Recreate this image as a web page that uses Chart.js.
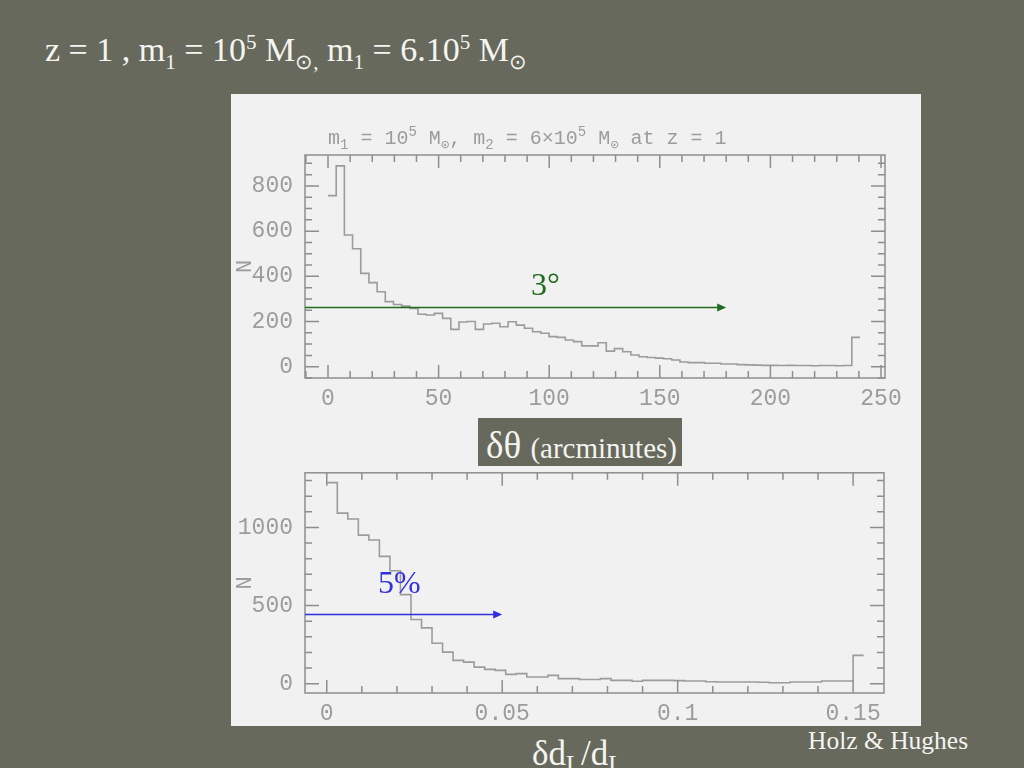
<!DOCTYPE html>
<html>
<head>
<meta charset="utf-8">
<script src="https://cdn.jsdelivr.net/npm/chart.js@4.4.1/dist/chart.umd.min.js"></script>
<style>
  body { margin: 0; width: 1024px; height: 768px; background: #67695c; position: relative; overflow: hidden; font-family: "Liberation Serif", "Times New Roman", serif; color: #f4f4f0; }
  #panel { position: absolute; left: 231px; top: 94px; width: 690px; height: 632px; background: #f1f1f1; }
  .box { position: absolute; }
  .txt { position: absolute; white-space: nowrap; line-height: 1; }
  sub, sup { font-size: 62%; line-height: 0; }
  #title { left: 45px; top: 33px; font-size: 34px; }
  #inner { left: 328px; top: 129px; font-family: "Liberation Mono", monospace; font-size: 20px; color: #9c9c9c; }
  #inner sub, #inner sup { font-size: 70%; }
  #deg { left: 531px; top: 268px; font-size: 32px; color: #1f6b1f; }
  #pct { left: 378px; top: 566px; font-size: 32px; color: #3333dd; }
  #xlab1 { left: 478px; top: 418px; width: 204px; height: 48px; background: #67695c; }
  #xlab1 span { position: absolute; left: 8px; top: 9px; font-size: 37px; white-space: nowrap; line-height: 1; }
  #xlab1 small { font-size: 29px; }
  #xlab2 { left: 532px; top: 736px; font-size: 35px; }
  #xlab2 sub { font-size: 70%; }
  #credit { left: 808px; top: 728px; font-size: 25.5px; }
</style>
</head>
<body>
<div id="panel"></div>
<div class="box" style="left:231px;top:94px;width:690px;height:320px"><canvas id="top" width="690" height="320"></canvas></div>
<div class="box" style="left:231px;top:447px;width:690px;height:279px"><canvas id="bottom" width="690" height="279"></canvas></div>

<div class="txt" id="title">z = 1 , m<sub>1</sub> = 10<sup>5</sup> M<sub>&#8857;,</sub> m<sub>1</sub> = 6.10<sup>5</sup> M<sub>&#8857;</sub></div>
<div class="txt" id="inner">m<sub>1</sub> = 10<sup>5</sup> M<sub>&#8857;</sub>, m<sub>2</sub> = 6&times;10<sup>5</sup> M<sub>&#8857;</sub> at z = 1</div>
<div class="txt" id="deg">3&deg;</div>
<div class="txt" id="pct">5%</div>
<div class="box" id="xlab1"><span>&delta;&theta; <small>(arcminutes)</small></span></div>
<div class="txt" id="xlab2">&delta;d<sub>L</sub>/d<sub>L</sub></div>
<div class="txt" id="credit">Holz &amp; Hughes</div>

<script>
// top panel: angular error, arcminutes
const thetaEdges = [0, 3.7, 7.4, 11.1, 14.8, 18.5, 22.2, 25.9, 29.6, 33.3, 37, 40.7, 44.4, 48.1, 51.8,
  55.5, 59.2, 62.9, 66.6, 70.3, 74, 77.7, 81.4, 85.1, 88.8, 92.5, 96.2, 99.9, 103.6, 107.3, 111,
  114.7, 118.4, 122.1, 125.8, 129.5, 133.2, 136.9, 140.6, 144.3, 148, 151.7, 155.4, 159.1, 162.8,
  166.5, 170.2, 173.9, 177.6, 181.3, 185, 188.7, 192.4, 196.1, 199.8, 203.5, 207.2, 210.9, 214.6,
  218.3, 222, 225.7, 229.4, 233.1, 236.8, 240.5];
const thetaCounts = [757, 889, 583, 522, 413, 372, 332, 288, 275, 268,
  258, 232, 229, 236, 214, 165, 198, 200, 165, 189,
  192, 177, 199, 184, 170, 155, 148, 133, 130, 118,
  111, 92, 92, 106, 69, 80, 66, 52, 44, 41,
  38, 35, 30, 21, 18, 18, 15, 15, 12, 12,
  9, 8, 7, 6, 6, 5, 6, 5, 5, 4,
  5, 5, 4, 5, 130];
const thetaXTicks = [0, 50, 100, 150, 200, 250];
const thetaYTicks = [0, 200, 400, 600, 800];

// bottom panel: distance error
const distEdges = [0, 0.003, 0.006, 0.009, 0.012, 0.015, 0.018, 0.021, 0.024, 0.027, 0.03, 0.033,
  0.036, 0.039, 0.042, 0.045, 0.048, 0.051, 0.054, 0.057, 0.06, 0.063, 0.066, 0.069, 0.072, 0.075,
  0.078, 0.081, 0.084, 0.087, 0.09, 0.093, 0.096, 0.099, 0.102, 0.105, 0.108, 0.111, 0.114, 0.117,
  0.12, 0.123, 0.126, 0.129, 0.132, 0.135, 0.138, 0.141, 0.144, 0.147, 0.15, 0.153];
const distCounts = [1287, 1092, 1054, 951, 920, 815, 723, 570, 411, 357,
  259, 202, 149, 138, 106, 91, 85, 59, 64, 42,
  42, 53, 32, 32, 26, 26, 32, 21, 21, 15,
  21, 21, 21, 19, 17, 17, 12, 10, 10, 10,
  10, 9, 6, 6, 10, 10, 10, 17, 17, 17,
  181];
const distXTicks = [0, 0.05, 0.1, 0.15];
const distYTicks = [0, 500, 1000];

// arrows: 3 degrees = 180 arcmin, 5 percent
const thetaArrow = { to: 180, level: 264, color: '#1f6b1f' };
const distArrow = { to: 0.05, level: 443, color: '#2f2fdd' };

const frameColor = '#8e8e8e';
const tickFont = { family: '"Liberation Mono", monospace', size: 23 };

function stepPoints(edges, counts) {
  const pts = counts.map((c, i) => ({ x: edges[i], y: c }));
  pts.push({ x: edges[edges.length - 1], y: counts[counts.length - 1] });
  return pts;
}

// PGPLOT-like box with inward ticks on all four sides
const frameTicks = {
  id: 'frameTicks',
  afterDatasetsDraw(chart, args, o) {
    const { ctx, chartArea: a, scales: { x, y } } = chart;
    ctx.save();
    ctx.strokeStyle = frameColor;
    ctx.lineWidth = 1.5;
    ctx.strokeRect(a.left, a.top, a.right - a.left, a.bottom - a.top);
    ctx.beginPath();
    const isMajor = (v, m) => Math.abs(v / m - Math.round(v / m)) < 1e-6;
    for (let k = Math.ceil(x.min / o.xMinor); k * o.xMinor <= x.max + 1e-9; k++) {
      const v = k * o.xMinor;
      const px = x.getPixelForValue(v);
      const len = isMajor(v, o.xMajor) ? 13 : 7;
      ctx.moveTo(px, a.bottom); ctx.lineTo(px, a.bottom - len);
      ctx.moveTo(px, a.top); ctx.lineTo(px, a.top + len);
    }
    for (let k = Math.ceil(y.min / o.yMinor); k * o.yMinor <= y.max + 1e-9; k++) {
      const v = k * o.yMinor;
      const py = y.getPixelForValue(v);
      const len = isMajor(v, o.yMajor) ? 14 : 7;
      ctx.moveTo(a.left, py); ctx.lineTo(a.left + len, py);
      ctx.moveTo(a.right, py); ctx.lineTo(a.right - len, py);
    }
    ctx.stroke();

    // arrow
    const ar = o.arrow;
    const ay = Math.round(y.getPixelForValue(ar.level)) + 0.5;
    const ax = x.getPixelForValue(ar.to);
    ctx.strokeStyle = ar.color;
    ctx.fillStyle = ar.color;
    ctx.lineWidth = 1.4;
    ctx.beginPath();
    ctx.moveTo(a.left, ay);
    ctx.lineTo(ax - 8, ay);
    ctx.stroke();
    ctx.beginPath();
    ctx.moveTo(ax, ay);
    ctx.lineTo(ax - 9, ay - 4);
    ctx.lineTo(ax - 9, ay + 4);
    ctx.closePath();
    ctx.fill();
    ctx.restore();
  }
};

function makeChart(id, pts, cfg) {
  return new Chart(document.getElementById(id), {
    type: 'line',
    data: {
      datasets: [{
        data: pts,
        stepped: true,
        borderColor: '#9c9c9c',
        borderWidth: 1.6,
        pointRadius: 0,
        fill: false
      }]
    },
    options: {
      responsive: false,
      animation: false,
      layout: { padding: cfg.padding },
      plugins: {
        legend: { display: false },
        tooltip: { enabled: false },
        frameTicks: cfg.frame
      },
      scales: {
        x: {
          type: 'linear',
          min: cfg.xMin, max: cfg.xMax,
          grid: { display: false, drawTicks: false },
          border: { display: false },
          afterBuildTicks: s => { s.ticks = cfg.xTicks.map(v => ({ value: v })); },
          afterFit: s => { s.height = cfg.xHeight; },
          ticks: { color: '#9c9c9c', font: tickFont, padding: 7, maxRotation: 0,
                   callback: v => String(v) }
        },
        y: {
          min: cfg.yMin, max: cfg.yMax,
          grid: { display: false, drawTicks: false },
          border: { display: false },
          afterBuildTicks: s => { s.ticks = cfg.yTicks.map(v => ({ value: v })); },
          afterFit: s => { s.width = 74; },
          title: { display: true, text: 'N', color: '#9c9c9c', padding: { top: 3, bottom: 0 },
                   font: { family: '"Liberation Mono", monospace', size: 22, lineHeight: 1 } },
          ticks: { color: '#9c9c9c', font: tickFont, padding: 12, callback: v => String(v) }
        }
      }
    },
    plugins: [frameTicks]
  });
}

makeChart('top', stepPoints(thetaEdges, thetaCounts), {
  padding: { left: 0, right: 36, top: 61, bottom: 0 },
  xMin: -10.4, xMax: 251.8, yMin: -50, yMax: 937,
  xTicks: thetaXTicks, yTicks: thetaYTicks, xHeight: 36,
  frame: { xMajor: 50, xMinor: 10, yMajor: 200, yMinor: 50, arrow: thetaArrow }
});

makeChart('bottom', stepPoints(distEdges, distCounts), {
  padding: { left: 0, right: 37, top: 0, bottom: 0 },
  xMin: -0.0062, xMax: 0.1588, yMin: -60, yMax: 1350,
  xTicks: distXTicks, yTicks: distYTicks, xHeight: 33,
  frame: { xMajor: 0.05, xMinor: 0.01, yMajor: 500, yMinor: 100, arrow: distArrow }
});
</script>
</body>
</html>
